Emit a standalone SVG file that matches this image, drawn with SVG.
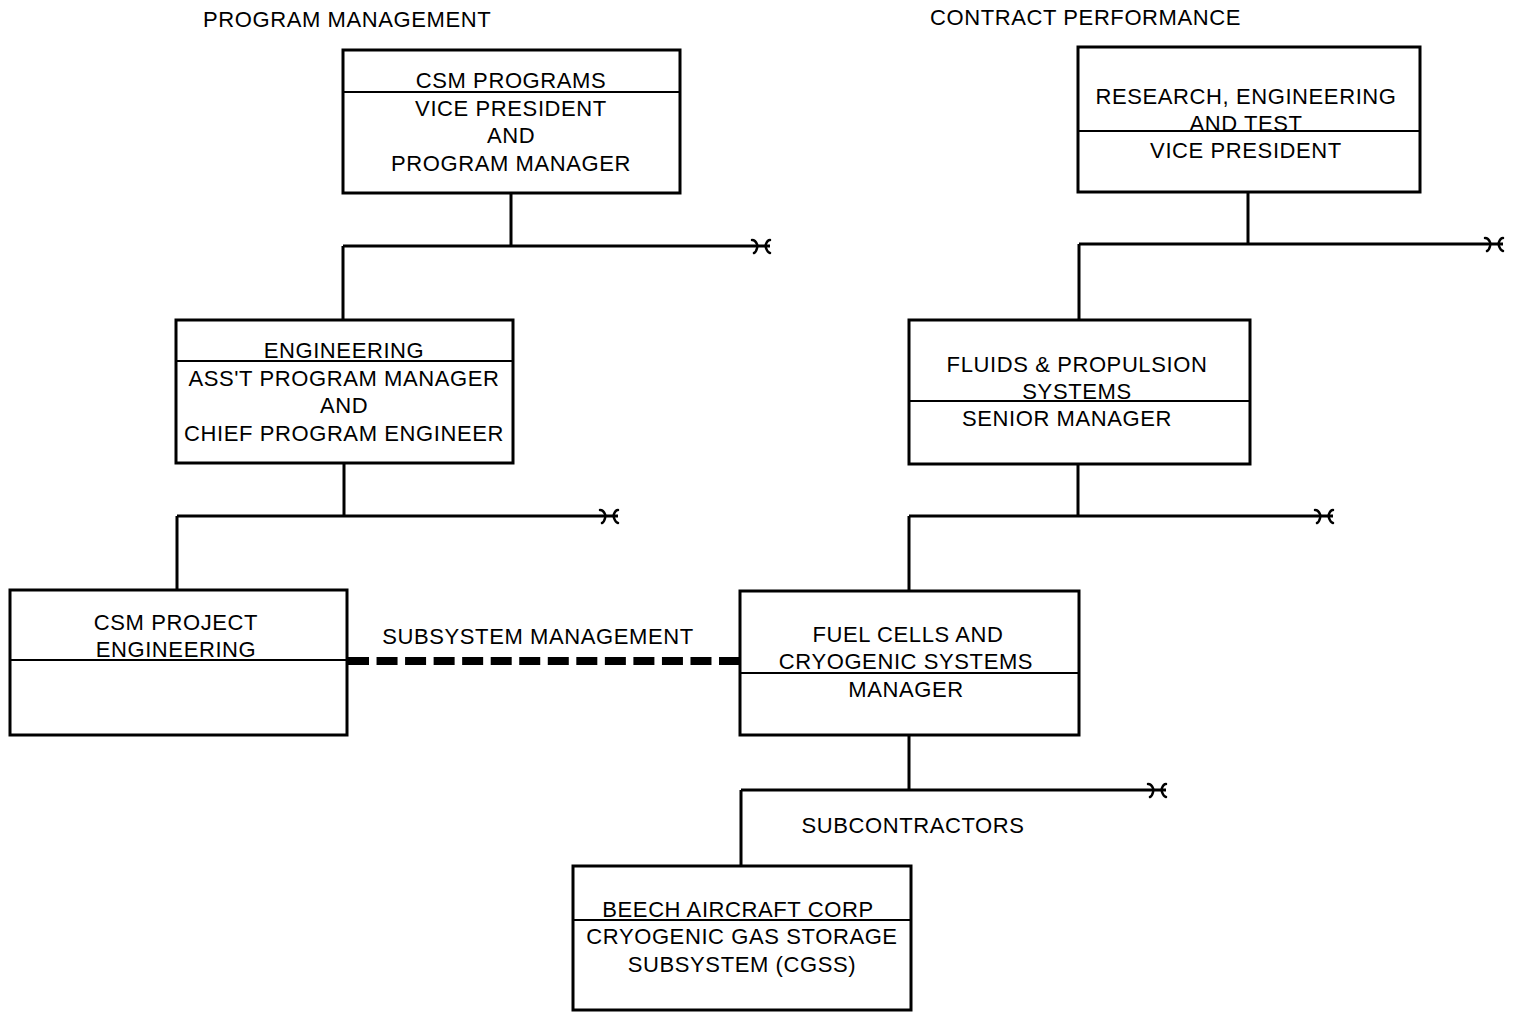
<svg xmlns="http://www.w3.org/2000/svg" width="1517" height="1012" viewBox="0 0 1517 1012">
<style>
  .box { fill: #fff; stroke: #000; stroke-width: 3; }
  .div { stroke: #000; stroke-width: 2; }
  .ln { fill: none; stroke: #000; stroke-width: 3; }
  .brk { fill: none; stroke: #000; stroke-width: 2.5; stroke-linecap: round; }
  .dash { fill: none; stroke: #000; stroke-width: 8; stroke-dasharray: 21 7.54; }
  text { font-family: "Liberation Sans", Arial, sans-serif; font-size: 22px; letter-spacing: 0.6px; fill: #000; }
  .c { text-anchor: middle; }
</style>
<defs>
  <path id="brk" class="brk" d="M -19,-6 C -14,-6 -14,0 -13,0 C -14,0 -14,6 -17,7 M -1,-6 C -5,-6 -5,0 -6,0 C -5,0 -5,6 -1,7"/>
</defs>
<rect width="1517" height="1012" fill="#fff"/>

<text x="203" y="27">PROGRAM MANAGEMENT</text>
<text x="930" y="25">CONTRACT PERFORMANCE</text>

<g id="connectors">
  <path class="ln" d="M511,193 V246 M343,246 H770 M343,246 V320"/>
  <use href="#brk" x="771" y="246"/>
  <path class="ln" d="M344,463 V516 M177,516 H618 M177,516 V590"/>
  <use href="#brk" x="619" y="516"/>
  <path class="ln" d="M1248,192 V244 M1079,244 H1503 M1079,244 V320"/>
  <use href="#brk" x="1504" y="244"/>
  <path class="ln" d="M1078,464 V516 M909,516 H1333 M909,516 V591"/>
  <use href="#brk" x="1334" y="516"/>
  <path class="ln" d="M909,735 V790 M741,790 H1166 M741,790 V866"/>
  <use href="#brk" x="1167" y="790"/>
  <path class="dash" d="M348,661 H740"/>
  <text class="c" x="538" y="644">SUBSYSTEM MANAGEMENT</text>
  <text class="c" x="913" y="833">SUBCONTRACTORS</text>
</g>

<g id="csm-programs">
  <rect class="box" x="343" y="50" width="337" height="143"/>
  <line class="div" x1="343" y1="92" x2="680" y2="92"/>
  <text class="c" x="511" y="88">CSM PROGRAMS</text>
  <text class="c" x="511" y="116">VICE PRESIDENT</text>
  <text class="c" x="511" y="143">AND</text>
  <text class="c" x="511" y="171">PROGRAM MANAGER</text>
</g>

<g id="engineering">
  <rect class="box" x="176" y="320" width="337" height="143"/>
  <line class="div" x1="176" y1="361" x2="513" y2="361"/>
  <text class="c" x="344" y="358">ENGINEERING</text>
  <text class="c" x="344" y="386">ASS'T PROGRAM MANAGER</text>
  <text class="c" x="344" y="413">AND</text>
  <text class="c" x="344" y="441">CHIEF PROGRAM ENGINEER</text>
</g>

<g id="csm-project-engineering">
  <rect class="box" x="10" y="590" width="337" height="145"/>
  <line class="div" x1="10" y1="660" x2="347" y2="660"/>
  <text class="c" x="176" y="630">CSM PROJECT</text>
  <text class="c" x="176" y="657">ENGINEERING</text>
</g>

<g id="research">
  <rect class="box" x="1078" y="47" width="342" height="145"/>
  <line class="div" x1="1078" y1="131" x2="1420" y2="131"/>
  <text class="c" x="1246" y="104">RESEARCH, ENGINEERING</text>
  <text class="c" x="1246" y="131">AND TEST</text>
  <text class="c" x="1246" y="158">VICE PRESIDENT</text>
</g>

<g id="fluids">
  <rect class="box" x="909" y="320" width="341" height="144"/>
  <line class="div" x1="909" y1="401" x2="1250" y2="401"/>
  <text class="c" x="1077" y="372">FLUIDS &amp; PROPULSION</text>
  <text class="c" x="1077" y="399">SYSTEMS</text>
  <text class="c" x="1067" y="426">SENIOR MANAGER</text>
</g>

<g id="fuel-cells">
  <rect class="box" x="740" y="591" width="339" height="144"/>
  <line class="div" x1="740" y1="673" x2="1079" y2="673"/>
  <text class="c" x="908" y="642">FUEL CELLS AND</text>
  <text class="c" x="906" y="669">CRYOGENIC SYSTEMS</text>
  <text class="c" x="906" y="697">MANAGER</text>
</g>

<g id="beech">
  <rect class="box" x="573" y="866" width="338" height="144"/>
  <line class="div" x1="573" y1="920" x2="911" y2="920"/>
  <text class="c" x="738" y="917">BEECH AIRCRAFT CORP</text>
  <text class="c" x="742" y="944">CRYOGENIC GAS STORAGE</text>
  <text class="c" x="742" y="972">SUBSYSTEM (CGSS)</text>
</g>
</svg>
